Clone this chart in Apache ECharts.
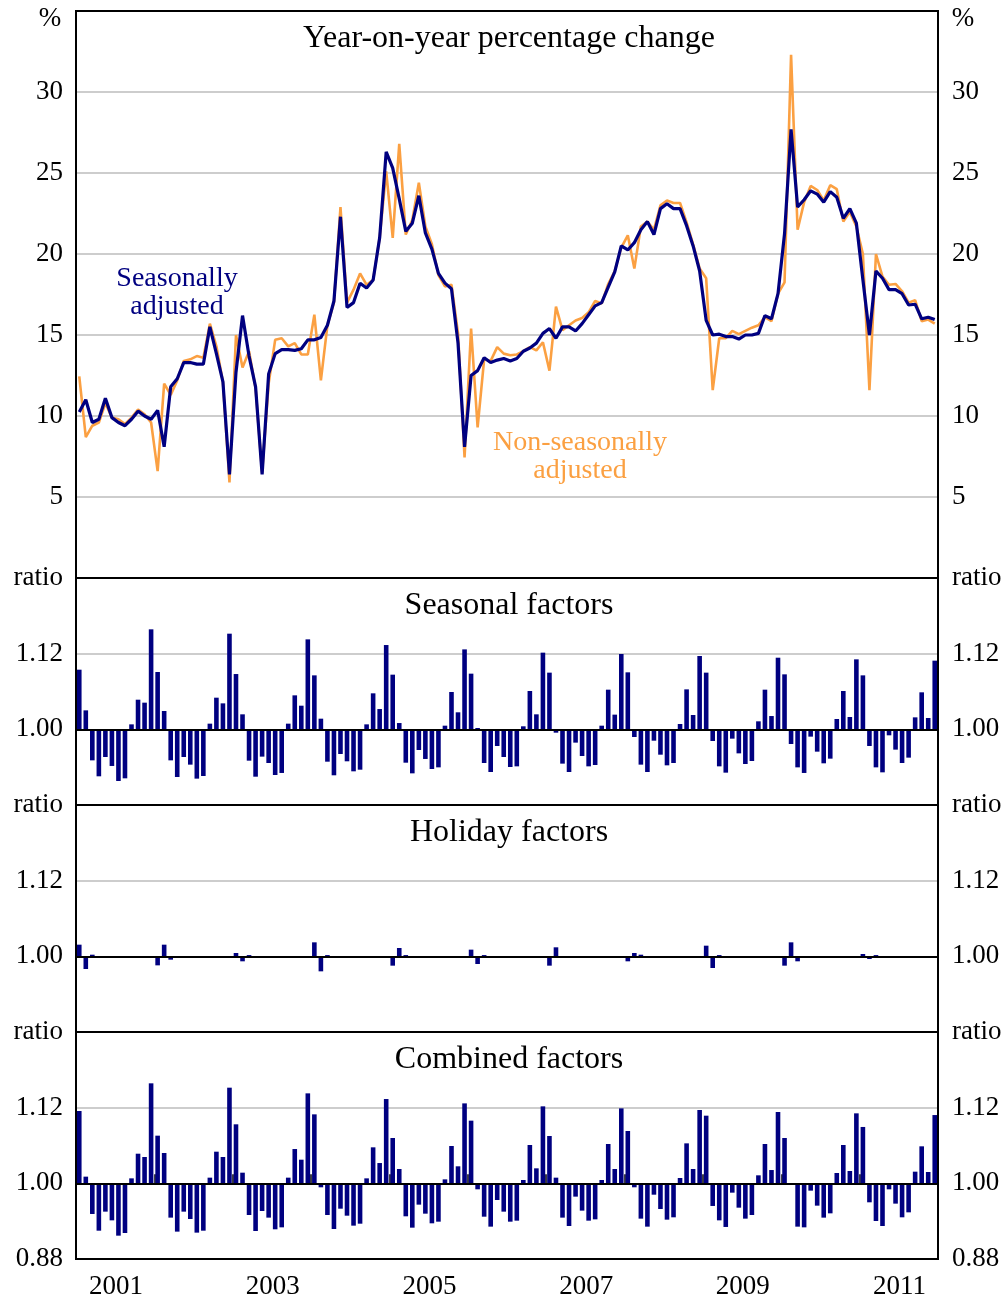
<!DOCTYPE html>
<html><head><meta charset="utf-8">
<script src="https://cdn.jsdelivr.net/npm/echarts/dist/echarts.min.js"></script>
<style>html,body{margin:0;padding:0;background:#fff}#c{width:1008px;height:1302px}</style>
</head><body><div id="c"></div>
<script>
// ---------- DATA ----------
const startYear = 2001, endYear = 2011;
const categories = [];
for (let y = startYear; y <= endYear; y++) for (let m = 1; m <= 12; m++) categories.push(y + '-' + (m < 10 ? '0' : '') + m);

const seasonallyAdjusted = [
 10.25, 11.0, 9.6, 9.8, 11.1, 9.9, 9.6, 9.4, 9.8, 10.3, 10.0, 9.8,
 10.35, 8.1, 11.8, 12.3, 13.3, 13.3, 13.2, 13.2, 15.5, 13.85, 12.1, 6.4,
 12.7, 16.2, 13.7, 11.8, 6.4, 12.6, 13.85, 14.1, 14.1, 14.05, 14.15, 14.7,
 14.7, 14.85, 15.6, 17.1, 22.3, 16.7, 17.0, 18.2, 17.9, 18.4, 21.0, 26.3,
 25.3, 23.4, 21.4, 21.9, 23.6, 21.3, 20.3, 18.8, 18.2, 17.85, 14.5, 8.1,
 12.5, 12.8, 13.6, 13.3, 13.45, 13.55, 13.4, 13.55, 14.0, 14.2, 14.5, 15.1,
 15.4, 14.8, 15.5, 15.5, 15.25, 15.7, 16.25, 16.8, 17.0, 17.95, 18.9, 20.5,
 20.25, 20.7, 21.5, 22.0, 21.2, 22.8, 23.1, 22.8, 22.8, 21.75, 20.5, 18.95,
 15.9, 15.0, 15.05, 14.9, 14.9, 14.75, 15.0, 15.0, 15.1, 16.2, 16.0, 17.55,
 21.25, 27.7, 22.9, 23.35, 23.9, 23.7, 23.2, 23.85, 23.5, 22.2, 22.8, 21.9,
 18.4, 15.0, 18.95, 18.5, 17.8, 17.8, 17.55, 16.85, 16.9, 16.0, 16.1, 15.95
];
const nonSeasonallyAdjusted = [
 12.45, 8.7, 9.4, 9.6, 10.8, 9.9, 9.8, 9.5, 9.9, 10.4, 10.1, 9.6,
 6.6, 12.0, 11.3, 12.2, 13.4, 13.5, 13.7, 13.6, 15.7, 14.3, 12.1, 5.9,
 15.0, 13.0, 14.0, 11.7, 6.5, 12.0, 14.7, 14.8, 14.3, 14.5, 13.8, 13.8,
 16.25, 12.2, 15.6, 17.0, 22.9, 17.0, 17.8, 18.8, 18.1, 18.4, 21.0, 25.1,
 21.0, 26.8, 21.2, 22.1, 24.4, 21.7, 20.6, 18.7, 18.0, 18.1, 15.1, 7.45,
 15.4, 9.3, 13.5, 13.4, 14.25, 13.85, 13.75, 13.8, 14.0, 14.25, 14.05, 14.55,
 12.8, 16.75, 15.3, 15.6, 15.9, 16.05, 16.4, 17.1, 16.95, 18.15, 18.95, 20.4,
 21.15, 19.1, 21.7, 22.0, 21.5, 23.0, 23.3, 23.15, 23.15, 21.95, 20.6, 19.1,
 18.5, 11.6, 14.8, 14.8, 15.25, 15.05, 15.25, 15.45, 15.6, 16.1, 15.85, 17.55,
 18.25, 32.3, 21.5, 23.2, 24.2, 23.95, 23.3, 24.25, 24.0, 22.0, 22.6, 21.7,
 20.0, 11.6, 20.0, 18.6, 18.1, 18.15, 17.7, 17.0, 17.15, 15.85, 15.95, 15.7
];
const seasonalFactors = [
 1.0946, 1.0301, 0.9508, 0.9255, 0.9561, 0.9419, 0.9181, 0.9223, 1.0079, 1.0470, 1.0423, 1.1586,
 1.0909, 1.0291, 0.9508, 0.9244, 0.9561, 0.9440, 0.9218, 0.9260, 1.0090, 1.0502, 1.0412, 1.1517,
 1.0877, 1.0238, 0.9503, 0.9249, 0.9567, 0.9466, 0.9276, 0.9308, 1.0090, 1.0539, 1.0375, 1.1427,
 1.0856, 1.0169, 0.9487, 0.9271, 0.9609, 0.9493, 0.9334, 0.9360, 1.0079, 1.0571, 1.0322, 1.1337,
 1.0867, 1.0100, 0.9471, 0.9302, 0.9672, 0.9530, 0.9371, 0.9397, 1.0058, 1.0592, 1.0270, 1.1268,
 1.0883, 1.0021, 0.9466, 0.9323, 0.9736, 0.9561, 0.9403, 0.9413, 1.0048, 1.0608, 1.0238, 1.1216,
 1.0899, 0.9947, 0.9456, 0.9323, 0.9789, 0.9577, 0.9413, 0.9434, 1.0058, 1.0629, 1.0233, 1.1195,
 1.0904, 0.9878, 0.9440, 0.9323, 0.9820, 0.9598, 0.9429, 0.9466, 1.0085, 1.0634, 1.0227, 1.1163,
 1.0899, 0.9815, 0.9413, 0.9313, 0.9852, 0.9619, 0.9450, 0.9498, 1.0127, 1.0629, 1.0211, 1.1136,
 1.0872, 0.9767, 0.9397, 0.9308, 0.9884, 0.9646, 0.9461, 0.9535, 1.0164, 1.0608, 1.0196, 1.1110,
 1.0856, 0.9736, 0.9397, 0.9318, 0.9905, 0.9678, 0.9466, 0.9551, 1.0190, 1.0587, 1.0180, 1.1089
];
const holidayFactors = [
 1.0185, 0.9799, 1.0026, 1, 1, 1, 1, 1, 1, 1, 1, 1,
 0.9857, 1.0185, 0.9947, 1, 1, 1, 1, 1, 1, 1, 1, 1,
 1.0053, 0.9921, 1.0020, 1, 1, 1, 1, 1, 1, 1, 1, 1,
 1.0222, 0.9762, 1.0020, 1, 1, 1, 1, 1, 1, 1, 1, 1,
 0.9852, 1.0132, 1.0020, 1, 1, 1, 1, 1, 1, 1, 1, 1,
 1.0106, 0.9878, 1.0020, 1, 1, 1, 1, 1, 1, 1, 1, 1,
 0.9852, 1.0143, 1, 1, 1, 1, 1, 1, 1, 1, 1, 1,
 0.9921, 1.0053, 1.0026, 1, 1, 1, 1, 1, 1, 1, 1, 1,
 1.0169, 0.9815, 1.0020, 1, 1, 1, 1, 1, 1, 1, 1, 1,
 0.9852, 1.0222, 0.9921, 1, 1, 1, 1, 1, 1, 1, 1, 1,
 1.0037, 0.9958, 1.0020, 1, 1, 1, 1, 1, 1, 1, 1, 1
];
const combinedFactors = [
 1.1147, 1.0106, 0.9514, 0.9249, 0.9551, 0.9413, 0.9170, 0.9212, 1.0079, 1.0470, 1.0418, 1.1586,
 1.0756, 1.0481, 0.9456, 0.9234, 0.9551, 0.9434, 0.9218, 0.9249, 1.0090, 1.0502, 1.0418, 1.1517,
 1.0936, 1.0169, 0.9498, 0.9244, 0.9561, 0.9456, 0.9271, 0.9302, 1.0090, 1.0544, 1.0375, 1.1427,
 1.1094, 0.9937, 0.9498, 0.9276, 0.9598, 0.9487, 0.9329, 0.9360, 1.0079, 1.0571, 1.0322, 1.1337,
 1.0719, 1.0227, 0.9477, 0.9297, 0.9662, 0.9519, 0.9366, 0.9392, 1.0063, 1.0592, 1.0270, 1.1268,
 1.0994, 0.9905, 0.9471, 0.9313, 0.9736, 0.9551, 0.9392, 0.9408, 1.0053, 1.0608, 1.0238, 1.1221,
 1.0751, 1.0090, 0.9456, 0.9323, 0.9789, 0.9567, 0.9408, 0.9429, 1.0053, 1.0624, 1.0227, 1.1189,
 1.0830, 0.9937, 0.9440, 0.9313, 0.9820, 0.9593, 0.9424, 0.9461, 1.0085, 1.0634, 1.0227, 1.1163,
 1.1073, 0.9641, 0.9413, 0.9308, 0.9852, 0.9614, 0.9440, 0.9498, 1.0127, 1.0624, 1.0211, 1.1131,
 1.0719, 0.9989, 0.9313, 0.9302, 0.9884, 0.9646, 0.9456, 0.9524, 1.0164, 1.0608, 1.0196, 1.1110,
 1.0894, 0.9699, 0.9403, 0.9323, 0.9905, 0.9678, 0.9461, 0.9540, 1.0185, 1.0587, 1.0180, 1.1083
];
const panelTitles = ['Year-on-year percentage change', 'Seasonal factors', 'Holiday factors', 'Combined factors'];

// ---------- LAYOUT ----------
const FONT = '"Liberation Serif", "Times New Roman", serif';
const L = 76, W = 862;
const panels = [{top: 11, h: 567}, {top: 578, h: 227}, {top: 805, h: 227}, {top: 1032, h: 227}];
const NAVY = '#000080', ORANGE = '#FBA042';

const chart = echarts.init(document.getElementById('c'), null, {renderer: 'canvas'});

const grids = panels.map(p => ({left: L, top: p.top, width: W, height: p.h, containLabel: false, show: false}));

const xAxes = panels.map((p, i) => {
  const bottom = i === 3;
  return {
    type: 'category', gridIndex: i, data: categories, boundaryGap: true,
    axisLine: {show: false},
    axisTick: {show: bottom, inside: true, length: 9, interval: (idx) => idx % 12 === 0, lineStyle: {color: '#000', width: 1.5}},
    axisLabel: {show: bottom, interval: (idx) => idx % 24 === 6, formatter: v => v.slice(0, 4),
      fontFamily: FONT, fontSize: 27, color: '#000', margin: 14, padding: [0, 5, 0, 0]},
    splitLine: {show: false}
  };
});

function topFmt(v) { return (v <= 0 || v >= 35) ? '' : String(v); }
function ratioFmt(showMin) {
  return function (v) {
    const r = Math.round((1 + v) * 100) / 100;
    if (r >= 1.235) return 'ratio';
    if (r <= 0.885) return showMin ? '0.88' : '';
    return r.toFixed(2);
  };
}
function yAx(gi, pos, min, max, interval, fmt, split) {
  return {
    type: 'value', gridIndex: gi, position: pos, min: min, max: max, interval: interval,
    axisLine: {show: false}, axisTick: {show: false},
    splitLine: {show: split, lineStyle: {color: '#bdbdbd', width: 1.5}},
    axisLabel: {formatter: fmt, fontFamily: FONT, fontSize: 27, color: '#000', margin: pos === 'left' ? 13 : 14}
  };
}
const yAxes = [
  yAx(0, 'left', 0, 35, 5, topFmt, true), yAx(0, 'right', 0, 35, 5, topFmt, false),
  yAx(1, 'left', -0.12, 0.24, 0.12, ratioFmt(false), true), yAx(1, 'right', -0.12, 0.24, 0.12, ratioFmt(false), false),
  yAx(2, 'left', -0.12, 0.24, 0.12, ratioFmt(false), true), yAx(2, 'right', -0.12, 0.24, 0.12, ratioFmt(false), false),
  yAx(3, 'left', -0.12, 0.24, 0.12, ratioFmt(true), true), yAx(3, 'right', -0.12, 0.24, 0.12, ratioFmt(true), false)
];

function barSeries(name, arr, gi) {
  return {
    name: name, type: 'bar', xAxisIndex: gi, yAxisIndex: gi * 2, barWidth: 4.6,
    data: arr.map(v => +(v - 1).toFixed(4)),
    itemStyle: {color: NAVY},
    markLine: {silent: true, symbol: ['none', 'none'], label: {show: false},
      lineStyle: {color: '#000', width: 2, type: 'solid'}, data: [{yAxis: 0}]}
  };
}

const series = [
  {name: 'Non-seasonally adjusted', type: 'line', xAxisIndex: 0, yAxisIndex: 0, data: nonSeasonallyAdjusted,
    symbol: 'none', lineStyle: {color: ORANGE, width: 2.6}, itemStyle: {color: ORANGE}, z: 2},
  {name: 'Seasonally adjusted', type: 'line', xAxisIndex: 0, yAxisIndex: 0, data: seasonallyAdjusted,
    symbol: 'none', lineStyle: {color: NAVY, width: 3.2}, itemStyle: {color: NAVY}, z: 3},
  barSeries('Seasonal factors', seasonalFactors, 1),
  barSeries('Holiday factors', holidayFactors, 2),
  barSeries('Combined factors', combinedFactors, 3)
];

const graphics = [];
panels.forEach((p, i) => {
  graphics.push({type: 'rect', z: 100, silent: true, shape: {x: L, y: p.top, width: W, height: p.h},
    style: {fill: null, stroke: '#000', lineWidth: 2}});
  graphics.push({type: 'text', z: 100, x: L + W / 2 + 2, y: p.top + 28,
    style: {text: panelTitles[i], font: '32px ' + FONT, fill: '#000', textAlign: 'center', textVerticalAlign: 'middle'}});
});
graphics.push({type: 'text', z: 100, x: 50, y: 19, style: {text: '%', font: '27px ' + FONT, fill: '#000', textAlign: 'center', textVerticalAlign: 'middle'}});
graphics.push({type: 'text', z: 100, x: 963, y: 19, style: {text: '%', font: '27px ' + FONT, fill: '#000', textAlign: 'center', textVerticalAlign: 'middle'}});
graphics.push({type: 'text', z: 100, x: 177, y: 293, style: {text: 'Seasonally\nadjusted', font: '28px ' + FONT, lineHeight: 28, fill: NAVY, textAlign: 'center', textVerticalAlign: 'middle'}});
graphics.push({type: 'text', z: 100, x: 580, y: 457, style: {text: 'Non-seasonally\nadjusted', font: '28px ' + FONT, lineHeight: 28, fill: ORANGE, textAlign: 'center', textVerticalAlign: 'middle'}});

chart.setOption({
  animation: false,
  backgroundColor: '#fff',
  grid: grids, xAxis: xAxes, yAxis: yAxes, series: series, graphic: graphics
});
</script>
</body></html>
